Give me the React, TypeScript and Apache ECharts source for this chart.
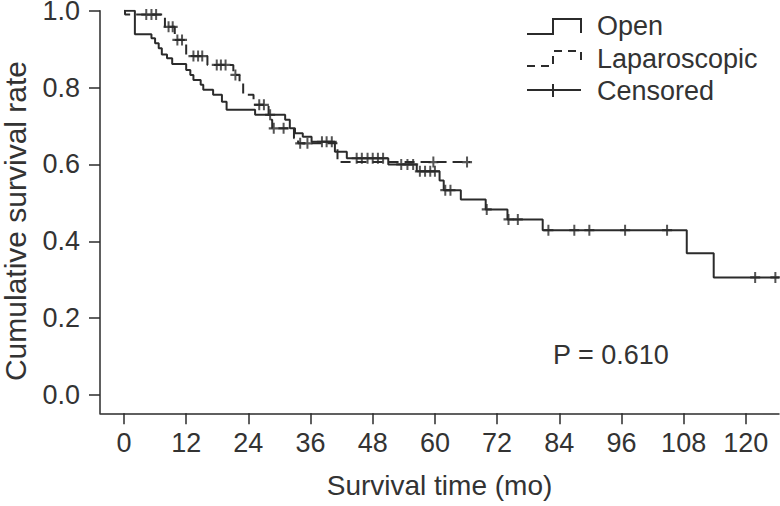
import React, { useEffect, useRef } from "react";
import * as echarts from "echarts";

// Kaplan-Meier step data (time in months, cumulative survival after the step)
const openTime = [0, 2.1, 5.3, 6.0, 6.7, 7.3, 8.3, 9.3, 12.0, 12.8, 13.4, 14.8, 15.3, 17.2, 18.9, 19.8, 25.3, 31.1, 32.0, 33.0, 34.5, 36.2, 40.7, 43.0, 51.0, 56.5, 60.9, 61.7, 65.0, 69.8, 74.0, 80.8, 108.6, 113.8, 126.4];
const openSurv = [1.0, 0.939, 0.928, 0.915, 0.902, 0.886, 0.876, 0.861, 0.846, 0.833, 0.82, 0.807, 0.794, 0.781, 0.763, 0.742, 0.729, 0.716, 0.694, 0.681, 0.672, 0.659, 0.633, 0.616, 0.6, 0.582, 0.558, 0.533, 0.509, 0.483, 0.457, 0.429, 0.369, 0.306, 0.306];

const lapTime = [0, 0.2, 7.9, 9.8, 12.0, 16.1, 21.1, 22.3, 23.0, 25.0, 27.9, 28.6, 32.8, 33.6, 41.2, 66.8];
const lapSurv = [1.0, 0.99, 0.958, 0.924, 0.882, 0.859, 0.833, 0.811, 0.781, 0.755, 0.716, 0.694, 0.668, 0.655, 0.606, 0.606];

// Censored observations
const openCensorTime = [28.2, 38.2, 39.1, 40.1, 44.9, 45.9, 47.0, 48.0, 49.0, 50.0, 53.5, 54.7, 55.8, 57.1, 58.1, 59.1, 60.0, 62.0, 63.0, 70.0, 74.2, 76.0, 81.9, 86.9, 89.8, 96.7, 104.8, 121.8, 125.7];
const openCensorSurv = [0.729, 0.659, 0.659, 0.659, 0.616, 0.616, 0.616, 0.616, 0.616, 0.616, 0.6, 0.6, 0.6, 0.582, 0.582, 0.582, 0.582, 0.533, 0.533, 0.483, 0.457, 0.457, 0.429, 0.429, 0.429, 0.429, 0.429, 0.306, 0.306];
const lapCensorTime = [4.3, 5.3, 6.2, 8.6, 9.4, 10.3, 11.2, 13.4, 14.3, 15.1, 17.9, 18.7, 19.6, 21.5, 26.1, 27.0, 28.9, 30.8, 34.0, 35.4, 59.7, 66.2];
const lapCensorSurv = [0.99, 0.99, 0.99, 0.958, 0.958, 0.924, 0.924, 0.882, 0.882, 0.882, 0.859, 0.859, 0.859, 0.833, 0.755, 0.755, 0.694, 0.694, 0.655, 0.655, 0.606, 0.606];

const xTicks = [0, 12, 24, 36, 48, 60, 72, 84, 96, 108, 120];
const yTicks = [0, 0.2, 0.4, 0.6, 0.8, 1.0];

const legendNames = ["Open", "Laparoscopic", "Censored"];
const pValueText = "P = 0.610";

const INK = "#2b2b2b";
const TEXT = "#333333";
const FONT = 'Arial, "Liberation Sans", Helvetica, sans-serif';
const PLUS = "path://M4,0H6V4H10V6H6V10H4V6H0V4H4Z";

export default function App() {
  const ref = useRef<HTMLDivElement>(null);
  useEffect(() => {
    if (!ref.current) return;
    const chart = echarts.init(ref.current, undefined, { renderer: "svg" });
    const pair = (ts: number[], ss: number[]) => ts.map((t, i) => [t, ss[i]]);
    const fs = 27;
    const txt = (text: string, x: number, y: number) => ({
      type: "text",
      x,
      y,
      style: { text, fontSize: fs, fill: TEXT, fontFamily: FONT, verticalAlign: "middle", align: "left" },
    });
    chart.setOption({
      animation: false,
      backgroundColor: "#ffffff",
      grid: { left: 100, right: 1, top: 10.7, bottom: 92.7, containLabel: false, outerBoundsMode: "none" },
      xAxis: {
        type: "value",
        min: -4.63,
        max: 126.4,
        name: "Survival time (mo)",
        nameLocation: "middle",
        nameGap: 58,
        nameTextStyle: { fontSize: 28, color: TEXT, fontFamily: FONT },
        splitLine: { show: false },
        axisLine: { show: true, onZero: false, lineStyle: { color: INK, width: 1.5 } },
        axisTick: { show: true, customValues: xTicks, length: 11, lineStyle: { color: INK, width: 1.5 } },
        axisLabel: { customValues: xTicks, fontSize: fs, color: TEXT, fontFamily: FONT, margin: 16 },
      },
      yAxis: {
        type: "value",
        min: -0.0476,
        max: 1,
        name: "Cumulative survival rate",
        nameLocation: "middle",
        nameGap: 70,
        nameTextStyle: { fontSize: 30, color: TEXT, fontFamily: FONT, padding: [0, 18, 0, 0] },
        splitLine: { show: false },
        axisLine: { show: true, onZero: false, lineStyle: { color: INK, width: 1.5 } },
        axisTick: { show: true, customValues: yTicks, length: 11, lineStyle: { color: INK, width: 1.5 } },
        axisLabel: {
          customValues: yTicks,
          fontSize: fs,
          color: TEXT,
          fontFamily: FONT,
          margin: 20,
          formatter: (v: number) => v.toFixed(1),
        },
      },
      series: [
        {
          name: legendNames[0],
          type: "line",
          step: "end",
          showSymbol: false,
          data: pair(openTime, openSurv),
          lineStyle: { color: INK, width: 2 },
          z: 3,
        },
        {
          name: legendNames[1],
          type: "line",
          step: "end",
          showSymbol: false,
          data: pair(lapTime, lapSurv),
          lineStyle: { color: INK, width: 2, type: [10, 6] },
          z: 3,
        },
        {
          name: "Open censored",
          type: "scatter",
          symbol: PLUS,
          symbolSize: [10, 11],
          data: pair(openCensorTime, openCensorSurv),
          itemStyle: { color: INK },
          z: 4,
        },
        {
          name: "Laparoscopic censored",
          type: "scatter",
          symbol: PLUS,
          symbolSize: [10, 11],
          data: pair(lapCensorTime, lapCensorSurv),
          itemStyle: { color: INK },
          z: 4,
        },
      ],
      graphic: [
        { type: "polyline", shape: { points: [[527, 34], [553, 34], [553, 19], [581, 19], [581, 33]] }, style: { stroke: INK, lineWidth: 2, fill: "none" } },
        txt(legendNames[0], 597, 26),
        { type: "polyline", shape: { points: [[527, 66], [553, 66], [553, 51], [581, 51], [581, 65]] }, style: { stroke: INK, lineWidth: 2, fill: "none", lineDash: [8, 6] } },
        txt(legendNames[1], 597, 59),
        { type: "line", shape: { x1: 527, y1: 90, x2: 581, y2: 90 }, style: { stroke: INK, lineWidth: 2 } },
        { type: "line", shape: { x1: 553, y1: 84, x2: 553, y2: 97 }, style: { stroke: INK, lineWidth: 2 } },
        txt(legendNames[2], 597, 91),
        txt(pValueText, 553, 355),
      ],
    });
    return () => chart.dispose();
  }, []);
  return <div ref={ref} style={{ position: "absolute", left: 0, top: 0, width: 780, height: 506 }} />;
}
